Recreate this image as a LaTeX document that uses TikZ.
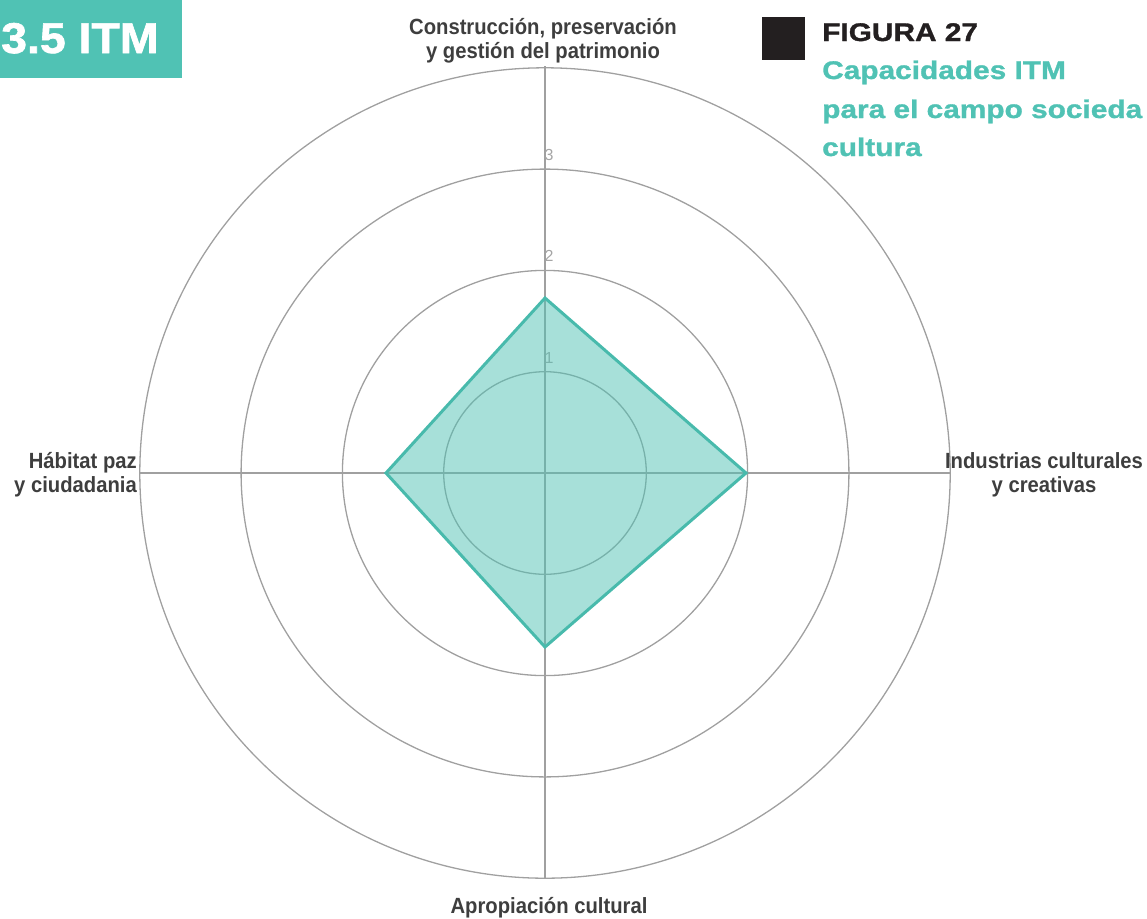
\documentclass[tikz,border=0pt]{standalone}
\usepackage{fontspec}
\setmainfont{Liberation Sans}
\newfontfamily\labfont[FakeStretch=0.92]{Liberation Sans Bold}
\newfontfamily\headfont[FakeStretch=1.17,FakeBold=1.2]{Liberation Sans Bold}
\newfontfamily\bigfont[FakeStretch=1.08,FakeBold=1.5]{Liberation Sans Bold}
\definecolor{itmteal}{RGB}{80,194,180}
\definecolor{itmedge}{RGB}{72,186,172}
\definecolor{gridgray}{RGB}{160,160,160}
\definecolor{labgray}{RGB}{62,62,62}
\definecolor{numgray}{RGB}{165,165,165}
\definecolor{inkblack}{RGB}{35,31,32}
\tikzset{
  ring/.style={draw=gridgray, line width=1.3pt},
  axisline/.style={draw=gridgray, line width=1.3pt},
  axislabel/.style={font=\labfont\fontsize{22}{24}\selectfont, text=labgray, inner sep=0pt, align=center},
  numlabel/.style={font=\fontsize{16}{16}\selectfont, text=numgray, inner sep=0pt},
  datapoly/.style={draw=itmedge, line width=3pt, fill=itmteal, fill opacity=0.5, line join=miter},
  headline/.style={font=\headfont\fontsize{25.5}{38.5}\selectfont, inner sep=0pt, anchor=base west}
}
\begin{document}
\begin{tikzpicture}[x=1pt,y=-1pt]
\useasboundingbox (0,0) rectangle (1147,918);
\coordinate (O) at (545,473);
% rings
\foreach \k in {1,2,3,4} {
  \draw[ring] (O) circle[radius=101.3*\k];
}
% axes
\coordinate (axT) at (545,66);
\coordinate (axB) at (545,878);
\coordinate (axL) at (139,473);
\coordinate (axR) at (950,473);
\draw[axisline] (axT) -- (axB);
\draw[axisline] (axL) -- (axR);
% scale numbers
\node[numlabel] (n1) at (549,358) {1};
\node[numlabel] (n2) at (549,256) {2};
\node[numlabel] (n3) at (549,155) {3};
% data polygon
\coordinate (pT) at (545,298);
\coordinate (pR) at (746,473);
\coordinate (pB) at (545,647);
\coordinate (pL) at (386,473);
\draw[datapoly] (pT) -- (pR) -- (pB) -- (pL) -- cycle;
% axis labels
\node[axislabel, anchor=north] (lt) at (543,18) {Construcción, preservación\\y gestión del patrimonio};
\node[axislabel, anchor=north east, align=right] (ll) at (137,452) {Hábitat paz\\y ciudadania};
\node[axislabel, anchor=north] (lr) at (1044,452) {Industrias culturales\\y creativas};
\node[axislabel, anchor=base] (lb) at (549,913) {Apropiación cultural};
% section tab
\fill[itmteal] (0,0) rectangle (182,78);
\node[font=\bigfont\fontsize{43}{43}\selectfont, text=white, inner sep=0pt, anchor=base west] (sec) at (1,53) {3.5 ITM};
% figure caption
\fill[inkblack] (762,17) rectangle (805,60);
\node[headline, text=inkblack] (fig) at (822,41) {FIGURA 27};
\node[headline, text=itmteal] (cap1) at (822,79) {Capacidades ITM};
\node[headline, text=itmteal] (cap2) at (822,118) {para el campo socieda};
\node[headline, text=itmteal] (cap3) at (822,156) {cultura};
\end{tikzpicture}
\end{document}
